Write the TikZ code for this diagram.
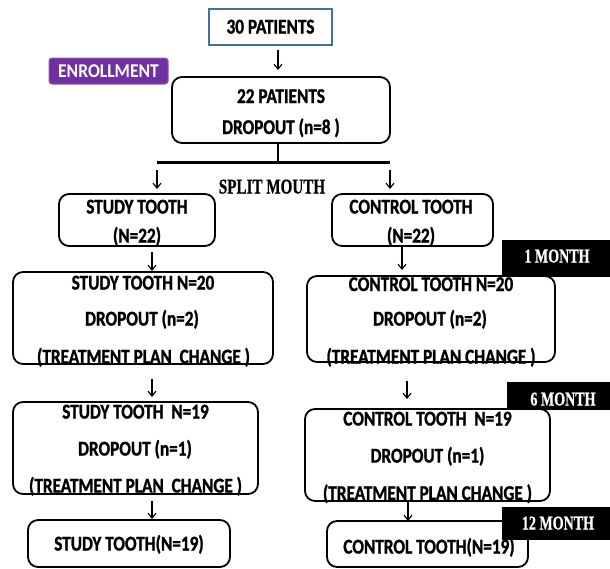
\documentclass[tikz,border=0pt]{standalone}
\usepackage{fontspec}
\usetikzlibrary{arrows.meta}
\newfontfamily\calfont[FakeStretch=0.82,FakeBold=1.2]{Carlito}
\newfontfamily\enrfont[FakeStretch=0.9]{Carlito}
\newfontfamily\tmsfont[FakeStretch=0.72,FakeBold=0.8]{Liberation Serif}
\definecolor{steel}{HTML}{41719C}
\definecolor{purp}{HTML}{7030A0}
\begin{document}
\begin{tikzpicture}[x=1pt,y=-1pt,
  rbox/.style={draw=black, line width=1.8pt, rounded corners=10pt, inner sep=0pt},
  txt/.style={font=\calfont\bfseries\fontsize{21}{21}\selectfont, inner sep=0pt, anchor=base},
  mlab/.style={fill=black, inner sep=0pt},
  mtxt/.style={text=white, font=\tmsfont\bfseries\fontsize{19.5}{19.5}\selectfont, inner sep=0pt, anchor=base},
  arr/.style={line width=1.1pt, -{Straight Barb[length=5pt,width=8pt]}}]
\useasboundingbox[fill=white] (0,0) rectangle (610,568);

% top
\node[draw=steel, line width=1.8pt, minimum width=123pt, minimum height=36pt, inner sep=0pt] (p30) at (270.5,27) {};
\node[txt] (t30) at (270.5,33.5) {30 PATIENTS};
\node[fill=purp, draw=purp!80!white, line width=1pt, rounded corners=3pt, minimum width=119pt, minimum height=26pt, inner sep=0pt] (enr) at (108.5,71) {};
\node[inner sep=0pt, anchor=base, text=white, font=\enrfont\bfseries\fontsize{19.5}{19.5}\selectfont] (tenr) at (108.5,77.5) {ENROLLMENT};

\node[rbox, minimum width=218pt, minimum height=66pt] (p22) at (281,110) {};
\node[txt] (t22a) at (281,103) {22 PATIENTS};
\node[txt] (t22b) at (281,134) {DROPOUT (n=8 )};

\coordinate (a1s) at (278,50);
\coordinate (a1e) at (278,70);
\draw[arr] (a1s) -- (a1e);

\coordinate (stemT) at (278,143);
\coordinate (stemB) at (278,162);
\coordinate (hL) at (157,162);
\coordinate (hR) at (390,162);
\draw[line width=1.8pt] (stemT) -- (stemB);
\draw[line width=3pt] (hL) -- (hR);
\coordinate (aLs) at (157,170);
\coordinate (aLe) at (157,189);
\coordinate (aRs) at (390,170);
\coordinate (aRe) at (390,189);
\draw[arr] (aLs) -- (aLe);
\draw[arr] (aRs) -- (aRe);
\node[inner sep=0pt, anchor=base, font=\tmsfont\bfseries\fontsize{21}{21}\selectfont] (split) at (272,193.5) {SPLIT MOUTH};

% level 0
\node[rbox, minimum width=156pt, minimum height=52pt] (s0) at (137,220) {};
\node[txt] (ts0a) at (137,213.5) {STUDY TOOTH};
\node[txt] (ts0b) at (137,242.5) {(N=22)};
\node[rbox, minimum width=161pt, minimum height=52pt] (c0) at (412.5,220) {};
\node[txt] (tc0a) at (411,213.5) {CONTROL TOOTH};
\node[txt] (tc0b) at (411,242.5) {(N=22)};

\coordinate (s01s) at (152,252);
\coordinate (s01e) at (152,271);
\draw[arr] (s01s) -- (s01e);
\coordinate (c01s) at (402,247);
\coordinate (c01e) at (402,270);
\draw[arr] (c01s) -- (c01e);

\node[mlab, minimum width=110pt, minimum height=37pt] (m1) at (557,258.5) {};
\node[mtxt] (tm1) at (557,262.5) {1 MONTH};

% level 1
\node[rbox, minimum width=260pt, minimum height=92pt] (s1) at (143,318) {};
\node[txt] (ts1a) at (143,289.5) {STUDY TOOTH N=20};
\node[txt] (ts1b) at (142,325.5) {DROPOUT (n=2)};
\node[txt] (ts1c) at (143.5,363.5) {(TREATMENT PLAN\ \ CHANGE )};

\node[rbox, minimum width=248pt, minimum height=86pt] (c1) at (431,319) {};
\node[txt] (tc1a) at (431,291) {CONTROL TOOTH N=20};
\node[txt] (tc1b) at (430,325.5) {DROPOUT (n=2)};
\node[txt] (tc1c) at (431,363.5) {(TREATMENT PLAN CHANGE )};

\coordinate (s12s) at (152,379);
\coordinate (s12e) at (152,397);
\draw[arr] (s12s) -- (s12e);
\coordinate (c12s) at (407,381);
\coordinate (c12e) at (407,399);
\draw[arr] (c12s) -- (c12e);

\node[mlab, minimum width=103pt, minimum height=28pt] (m6) at (558.5,396) {};
\node[mtxt] (tm6) at (563,405.5) {6 MONTH};

% level 2
\node[rbox, minimum width=245pt, minimum height=92pt] (s2) at (135.5,448) {};
\node[txt] (ts2a) at (135.5,418.5) {STUDY TOOTH\ \ N=19};
\node[txt] (ts2b) at (135,455.5) {DROPOUT (n=1)};
\node[txt] (ts2c) at (135.5,492.5) {(TREATMENT PLAN\ \ CHANGE )};

\node[rbox, minimum width=245pt, minimum height=92pt] (c2) at (427.5,455) {};
\node[txt] (tc2a) at (427.5,425.5) {CONTROL TOOTH\ \ N=19};
\node[txt] (tc2b) at (427.5,462.5) {DROPOUT (n=1)};
\node[txt] (tc2c) at (427.5,500) {(TREATMENT PLAN CHANGE )};

\coordinate (s23s) at (152,501);
\coordinate (s23e) at (152,519);
\draw[arr] (s23s) -- (s23e);
\coordinate (c23s) at (408,501);
\coordinate (c23e) at (408,521);
\draw[arr] (c23s) -- (c23e);

% level 3
\node[rbox, minimum width=202pt, minimum height=47pt] (s3) at (129,543.5) {};
\node[txt] (ts3) at (129,550.5) {STUDY TOOTH(N=19)};
\node[rbox, minimum width=201pt, minimum height=46pt] (c3) at (427.5,544) {};
\node[txt] (tc3) at (429,553.5) {CONTROL TOOTH(N=19)};

\node[mlab, minimum width=108pt, minimum height=33pt] (m12) at (556,523) {};
\node[mtxt] (tm12) at (558,529.5) {12 MONTH};
\end{tikzpicture}
\end{document}
